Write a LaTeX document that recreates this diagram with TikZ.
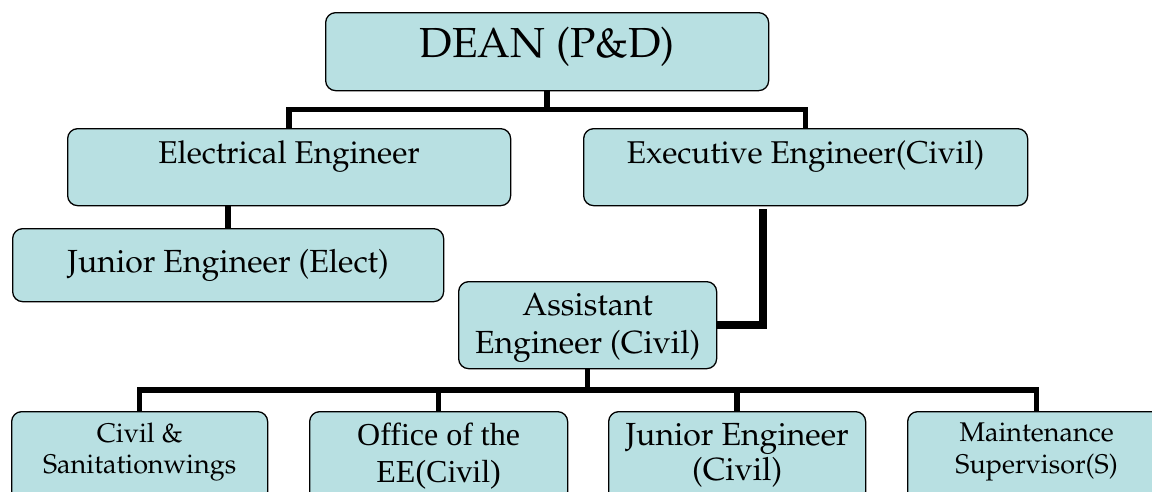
\documentclass[tikz,border=0pt]{standalone}
\usepackage{fontspec}
\usepackage[T1,TU]{fontenc}
\newfontfamily\timesf{Liberation Serif}
\newcommand\palfam{\fontencoding{T1}\fontfamily{ppl}\selectfont}
\usetikzlibrary{calc}
\definecolor{boxfill}{RGB}{184,224,226}
\newcommand\twol[2]{\begin{tabular}[t]{@{}c@{}}#1\\#2\end{tabular}}
\begin{document}
\begin{tikzpicture}[x=1pt,y=-1pt,
  orgbox/.style={draw=black, line width=1.3pt, fill=boxfill, rounded corners=10pt,
    inner sep=0pt, anchor=north west},
  conn/.style={line width=5.5pt, line join=miter, draw=black},
  thickconn/.style={line width=8pt, line join=miter, draw=black}]
\clip (0,0) rectangle (1152,491);
\fill[white] (0,0) rectangle (1152,491);
% top level
\node[orgbox, minimum width=443pt, text height=45pt, text depth=33pt,
  font=\palfam\fontsize{42}{48}\selectfont] (D) at (325,12) {DEAN (P\&D)};
% second level
\node[orgbox, minimum width=443pt, text height=35pt, text depth=42pt,
  font=\palfam\fontsize{31.5}{38}\selectfont] (EE) at (67,128) {Electrical Engineer};
\node[orgbox, minimum width=444pt, text height=35pt, text depth=42pt,
  font=\palfam\fontsize{31.5}{38}\selectfont] (EX) at (583,128) {Executive Engineer(Civil)};
% third level
\node[orgbox, minimum width=431pt, text height=44pt, text depth=29pt,
  font=\palfam\fontsize{32}{38}\selectfont] (JE) at (12,228) {Junior Engineer (Elect)};
\node[orgbox, minimum width=258pt, text height=34pt, text depth=53pt,
  font=\palfam\fontsize{32}{38}\selectfont] (AE) at (458,281) {\twol{Assistant}{Engineer (Civil)}};
% bottom level
\node[orgbox, minimum width=256pt, text height=31pt, text depth=59pt,
  font=\palfam\fontsize{27}{31}\selectfont] (CS) at (11,411) {\twol{Civil \&}{Sanitationwings}};
\node[orgbox, minimum width=258pt, text height=34pt, text depth=56pt,
  font=\timesf\fontsize{32}{37}\selectfont] (OF) at (309,411) {\twol{Office of the}{EE(Civil)}};
\node[orgbox, minimum width=257pt, text height=34pt, text depth=56pt,
  font=\palfam\fontsize{32}{35}\selectfont] (JC) at (608,411) {\twol{Junior Engineer}{(Civil)}};
\node[orgbox, minimum width=258pt, text height=30pt, text depth=60pt,
  font=\palfam\fontsize{27}{32}\selectfont] (MS) at (907,411) {\twol{Maintenance}{Supervisor(S)}};
% connectors
\coordinate (bar1) at ($(D.south)!0.5!(EE.north)$);
\coordinate (bar2) at ($(AE.south)!0.5!(OF.north)$);
\draw[conn] (D.south) -- (D.south |- bar1);
\draw[conn] (EE.north) -- (EE.north |- bar1) -- (EX.north |- bar1) -- (EX.north);
\draw[conn] (JE.north) -- (JE.north |- EE.south);
\draw[thickconn] (AE.east) -| ([xshift=-43pt,yshift=-3pt]EX.south);
\draw[conn] (AE.south) -- (AE.south |- bar2);
\draw[conn] (CS.north) -- (CS.north |- bar2) -- (MS.north |- bar2) -- (MS.north);
\draw[conn] (OF.north) -- (OF.north |- bar2);
\draw[conn] (JC.north) -- (JC.north |- bar2);
\end{tikzpicture}
\end{document}
